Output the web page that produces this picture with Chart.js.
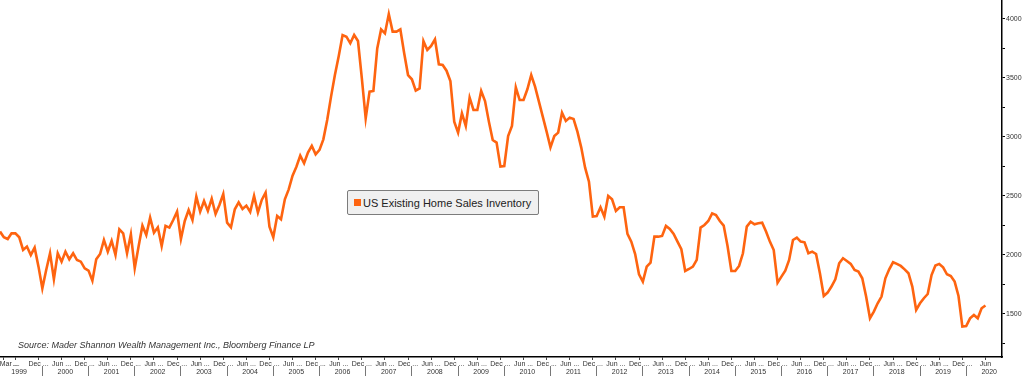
<!DOCTYPE html>
<html>
<head>
<meta charset="utf-8">
<script src="https://cdn.jsdelivr.net/npm/chart.js@4.4.1/dist/chart.umd.min.js"></script>
<style>
  html, body { margin: 0; padding: 0; background: #fff; }
  #wrap { position: relative; width: 1023px; height: 376px; }
  #legendBox {
    position: absolute; left: 347px; top: 190px; width: 192px; height: 25px;
    box-sizing: border-box; border: 1px solid #7c7c7c; border-radius: 2px;
    background: #f0f0f0; color: #222; font: 11px "Liberation Sans", Arial, sans-serif;
    display: flex; align-items: center; padding-left: 6px; white-space: nowrap;
  }
  #legendBox .sw { width: 7px; height: 7px; margin-right: 2px; }
</style>
</head>
<body>
<div id="wrap">
  <canvas id="inventoryChart" width="1023" height="376"></canvas>
  <div id="legendBox"></div>
</div>
<script>
// monthly, first value = Feb 1999, last = Jun 2020 (thousands of units)
const inventory = [
  2198, 2150, 2135, 2183, 2183, 2150, 2042, 2071, 2000, 2062, 1901, 1717,
  1873, 2014, 1794, 2014, 1943, 2028, 1963, 2014, 1957, 1943, 1887, 1867,
  1782, 1963, 2008, 2127, 2028, 2119, 2000, 2217, 2183, 2014, 2175, 1887,
  2071, 2248, 2169, 2316, 2189, 2234, 2076, 2246, 2232, 2296, 2367, 2135,
  2288, 2381, 2296, 2494, 2367, 2457, 2373, 2477, 2347, 2424, 2517, 2274,
  2234, 2387, 2446, 2390, 2418, 2365, 2500, 2359, 2466, 2528, 2240, 2150,
  2330, 2302, 2472, 2556, 2672, 2748, 2842, 2777, 2867, 2924, 2853, 2890,
  2980, 3144, 3342, 3525, 3686, 3864, 3850, 3794, 3864, 3813, 3497, 3158,
  3384, 3390, 3751, 3912, 3878, 4042, 3893, 3893, 3912, 3709, 3525, 3489,
  3393, 3412, 3813, 3737, 3771, 3828, 3616, 3610, 3562, 3475, 3130, 3037,
  3200, 3093, 3333, 3229, 3229, 3390, 3305, 3130, 2974, 2952, 2749, 2754,
  3008, 3093, 3421, 3313, 3313, 3404, 3525, 3426, 3299, 3172, 3045, 2912,
  3008, 3037, 3206, 3136, 3164, 3152, 3045, 2910, 2740, 2621, 2325, 2330,
  2404, 2325, 2500, 2472, 2373, 2404, 2404, 2178, 2113, 2008, 1836, 1774,
  1901, 1935, 2155, 2155, 2161, 2246, 2220, 2178, 2113, 2048, 1864, 1881,
  1901, 1958, 2232, 2254, 2288, 2353, 2339, 2288, 2249, 2076, 1864, 1864,
  1907, 2014, 2240, 2282, 2260, 2268, 2274, 2198, 2113, 2042, 1765, 1816,
  1867, 1958, 2127, 2147, 2113, 2107, 2014, 2028, 2008, 1845, 1652, 1681,
  1732, 1794, 1929, 1972, 1949, 1924, 1873, 1859, 1802, 1647, 1463, 1520,
  1590, 1647, 1802, 1878, 1938, 1924, 1907, 1878, 1845, 1732, 1534, 1590,
  1633, 1669, 1830, 1910, 1924, 1895, 1836, 1822, 1774, 1652, 1393, 1398,
  1463, 1491, 1463, 1548, 1571
];

const seriesName = 'US Existing Home Sales Inventory';
const sourceText = 'Source: Mader Shannon Wealth Management Inc., Bloomberg Finance LP';

// month ticks: Mar 1999, Jun 1999, then every Dec / Jun up to Jun 2020
const monthTickIdx = [1, 4];
const monthTickLabels = ['      Mar ...', '...'];
for (let i = 10; i < inventory.length; i += 6) {
  monthTickIdx.push(i);
  monthTickLabels.push(i === inventory.length - 1 ? 'Jun' : ((i + 1) % 12 === 11 ? 'Dec ...' : 'Jun ...'));
}

const yearLabels = ['1999', '2000', '2001', '2002', '2003', '2004', '2005', '2006', '2007', '2008', '2009',
  '2010', '2011', '2012', '2013', '2014', '2015', '2016', '2017', '2018', '2019', '2020'];
const yearTickIdx = yearLabels.map((y, k) => k * 12 - 1); // January of each year

const yTickValues = [1250, 1500, 1750, 2000, 2250, 2500, 2750, 3000, 3250, 3500, 3750, 4000];

const lineColor = '#fe6410';
const tickFont = { family: '"Liberation Sans", Arial, sans-serif', size: 7 };

const sourceNote = {
  id: 'sourceNote',
  afterDraw(chart) {
    const c = chart.ctx;
    c.save();
    c.font = 'italic 9px "Liberation Sans", Arial, sans-serif';
    c.fillStyle = '#333';
    c.textBaseline = 'middle';
    c.fillText(sourceText, chart.chartArea.left + 18, chart.chartArea.bottom - 12);
    c.restore();
  }
};

function noPad(s) {
  s.paddingLeft = 0;
  s.paddingRight = 0;
  s.paddingTop = 0;
  s.paddingBottom = 0;
}

const ctx = document.getElementById('inventoryChart').getContext('2d');
const chart = new Chart(ctx, {
  type: 'line',
  data: {
    datasets: [{
      label: seriesName,
      data: inventory.map((v, i) => ({ x: i, y: v })),
      borderColor: lineColor,
      backgroundColor: lineColor,
      borderWidth: 2.6,
      pointRadius: 0,
      tension: 0,
      fill: false,
    }],
  },
  options: {
    responsive: false,
    animation: false,
    layout: { padding: 0, autoPadding: false },
    plugins: {
      legend: { display: false },
      tooltip: { enabled: false },
    },
    scales: {
      x: {
        type: 'linear',
        position: 'bottom',
        weight: 0,
        min: 0,
        max: 260.3,
        border: { color: '#000', width: 1.5 },
        grid: { drawOnChartArea: false, tickLength: 3, color: '#444' },
        ticks: {
          autoSkip: false, maxRotation: 0, minRotation: 0, padding: 0,
          font: tickFont, color: '#333',
          callback: (v, i) => monthTickLabels[i],
        },
        afterBuildTicks: s => { s.ticks = monthTickIdx.map(v => ({ value: v })); },
        afterFit: s => { s.height = 9; noPad(s); },
      },
      x2: {
        type: 'linear',
        position: 'bottom',
        weight: 1,
        min: 0,
        max: 260.3,
        border: { display: false },
        grid: { drawOnChartArea: false, tickLength: 10, color: '#777' },
        ticks: {
          autoSkip: false, maxRotation: 0, minRotation: 0, padding: -8, labelOffset: 23,
          font: tickFont, color: '#333',
          callback: (v, i) => yearLabels[i],
        },
        afterBuildTicks: s => { s.ticks = yearTickIdx.map(v => ({ value: v })); },
        afterFit: s => { s.height = 10; noPad(s); },
      },
      y: {
        position: 'right',
        min: 1135,
        max: 4161,
        border: { color: '#000', width: 1.5 },
        grid: { drawOnChartArea: false, tickLength: 3, color: '#000' },
        ticks: {
          padding: 1, font: tickFont, color: '#333',
          callback: v => (v % 500 === 0 ? String(v) : ''),
        },
        afterBuildTicks: s => { s.ticks = yTickValues.map(v => ({ value: v })); },
        afterFit: s => { s.width = 21; noPad(s); },
      },
    },
  },
  plugins: [sourceNote],
});

// legend box drawn over the plot, built from the dataset
const ds = chart.data.datasets[0];
const legendBox = document.getElementById('legendBox');
const sw = document.createElement('span');
sw.className = 'sw';
sw.style.background = ds.borderColor;
legendBox.appendChild(sw);
legendBox.appendChild(document.createTextNode(ds.label));
</script>
</body>
</html>
